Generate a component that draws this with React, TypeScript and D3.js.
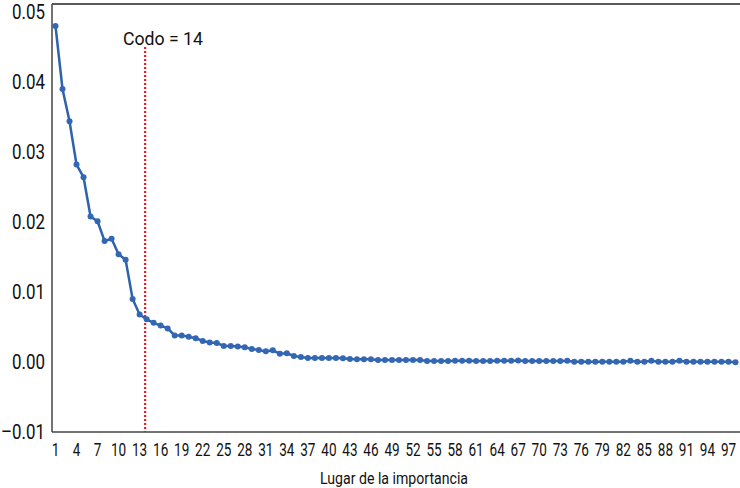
import React from "react";
import * as d3 from "d3";

const ranks: number[] = d3.range(1, 99);
const importance: number[] = [
  0.048, 0.039, 0.0344, 0.0282, 0.0264, 0.0208, 0.0201, 0.0173, 0.0176, 0.0154,
  0.0146, 0.009, 0.0068, 0.0061, 0.0056, 0.0052, 0.0048, 0.0038, 0.0038, 0.0036,
  0.0034, 0.003, 0.0028, 0.0027, 0.0023, 0.0023, 0.0022, 0.0021, 0.00186, 0.0017,
  0.00152, 0.00167, 0.00119, 0.00124, 0.00086, 0.00071, 0.00057, 0.00057, 0.00057, 0.00057,
  0.00057, 0.00052, 0.00043, 0.0004, 0.0004, 0.0004, 0.00029, 0.00029, 0.00029, 0.00029,
  0.00029, 0.00029, 0.00029, 0.00014, 0.00014, 0.00014, 0.00014, 0.00017, 0.00017, 0.00017,
  0.00014, 0.00014, 0.00014, 0.00019, 0.00019, 0.00019, 0.00022, 0.00014, 0.00014, 0.00014,
  0.00014, 0.00014, 0.00014, 0.00019, 0.00005, 0.00005, 0.00005, 0.00005, 0.00005, 0.00005,
  0.00005, 0.00005, 0.00019, 0.00005, 0.00005, 0.00019, 0.00005, 0.00005, 0.00005, 0.00019,
  0.00005, 0.00005, 0.00005, 0.00005, 0.00005, 0.00005, 0.00005, -0.00005,
];
const yTicks: number[] = [-0.01, 0.0, 0.01, 0.02, 0.03, 0.04, 0.05];
const xTicks: number[] = d3.range(1, 98, 3);
const elbow = 14;
const elbowLabel = "Codo = 14";
const xTitle = "Lugar de la importancia";

const FONT = "Roboto, 'Liberation Sans', sans-serif";

export default function App() {
  const W = 740;
  const H = 488;
  const left = 52;
  const top = 4;
  const bottom = 432;
  const x = d3.scaleLinear().domain([1, 98]).range([55.5, 735.5]);
  const y = d3.scaleLinear().domain([-0.01, 0.05]).range([432, 12]);
  const line = d3
    .line<number>()
    .x((_, i) => x(ranks[i]))
    .y((d) => y(d));
  const fmt = (v: number) => (v < 0 ? "\u2013" : "") + Math.abs(v).toFixed(2);

  return (
    <svg
      width={W}
      height={H}
      style={{ position: "absolute", left: 0, top: 0, background: "#fff" }}
      fontFamily={FONT}
    >
      {/* frame */}
      <line x1={left} x2={W} y1={top} y2={top} stroke="#222" strokeWidth={1.5} />
      <line x1={left} x2={left} y1={top} y2={bottom} stroke="#444" strokeWidth={1.5} />
      <line x1={left} x2={W} y1={bottom} y2={bottom} stroke="#444" strokeWidth={1.5} />

      {/* y ticks */}
      {yTicks.map((t) => {
        const s = fmt(t);
        return (
          <text
            key={t}
            x={45}
            y={y(t) + 7}
            textAnchor="end"
            fontSize={19.5}
            fill="#111"
            textLength={t < 0 ? 44 : 33}
            lengthAdjust="spacingAndGlyphs"
          >
            {s}
          </text>
        );
      })}

      {/* x ticks */}
      {xTicks.map((t) => {
        const s = String(t);
        return (
          <text
            key={t}
            x={x(t)}
            y={455.5}
            textAnchor="middle"
            fontSize={17.5}
            fill="#111"
            textLength={s.length * 7.6}
            lengthAdjust="spacingAndGlyphs"
          >
            {s}
          </text>
        );
      })}
      <text
        x={394}
        y={484}
        textAnchor="middle"
        fontSize={17}
        fill="#111"
        textLength={148}
        lengthAdjust="spacingAndGlyphs"
      >
        {xTitle}
      </text>

      {/* elbow line */}
      <line
        x1={x(elbow) - 1.5}
        x2={x(elbow) - 1.5}
        y1={47}
        y2={bottom}
        stroke="#ee1c25"
        strokeWidth={2.2}
        strokeDasharray="2,2"
      />
      <text
        x={163}
        y={45}
        textAnchor="middle"
        fontSize={18.5}
        fill="#111"
        textLength={80}
        lengthAdjust="spacingAndGlyphs"
      >
        {elbowLabel}
      </text>

      {/* series */}
      <path d={line(importance) || ""} fill="none" stroke="#2d62ad" strokeWidth={2.5} />
      {importance.map((v, i) => (
        <circle key={i} cx={x(ranks[i])} cy={y(v)} r={3} fill="#3367b5" />
      ))}
    </svg>
  );
}
